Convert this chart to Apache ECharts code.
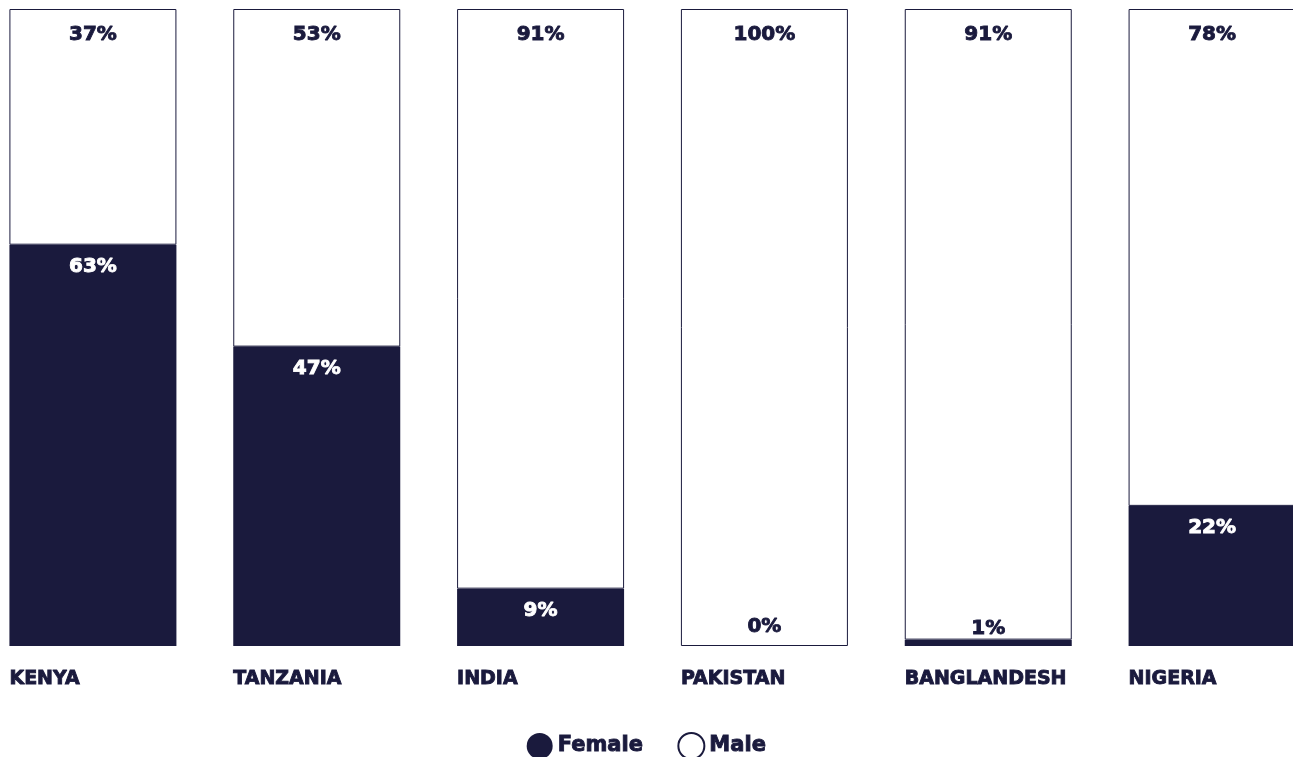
<!DOCTYPE html>
<html>
<head>
<meta charset="utf-8">
<script src="https://cdn.jsdelivr.net/npm/echarts@6/dist/echarts.min.js"></script>
<style>
  html, body { margin: 0; padding: 0; background: #fff; }
  #chart { width: 1293px; height: 757px; }
</style>
</head>
<body>
<div id="chart"></div>
<script>
const countries = ["KENYA", "TANZANIA", "INDIA", "PAKISTAN", "BANGLANDESH", "NIGERIA"];
const female = [63, 47, 9, 0, 1, 22];
const male = [37, 53, 91, 100, 91, 78];

const NAVY = "#1a1a3d";
const FONT = "'DejaVu Sans', sans-serif";

const chart = echarts.init(document.getElementById("chart"));

// heavier look: stroke the glyphs in their own colour
const heavy = (c) => ({ color: c, textBorderColor: c, textBorderWidth: 0.9 });

// tiny female shares get their label lifted above the bar, in dark text
const femaleData = female.map((v) => {
  if (v > 2) return v;
  return {
    value: v,
    label: { position: "top", distance: v === 0 ? 9 : 1, ...heavy(NAVY) }
  };
});
// male block fills the rest of the column; its label shows the reported share
const maleFill = female.map((v) => 100 - v);

const option = {
  animation: false,
  grid: { left: -19, width: 1343, top: 9, height: 637, outerBoundsMode: "none" },
  legend: {
    bottom: -8,
    left: "center",
    icon: "circle",
    itemWidth: 26,
    itemHeight: 26,
    itemGap: 34,
    textStyle: { ...heavy(NAVY), fontSize: 21, fontWeight: "bold", fontFamily: FONT },
    data: ["Female", "Male"]
  },
  xAxis: {
    type: "category",
    data: countries,
    axisLine: { show: false },
    axisTick: { show: false },
    axisLabel: {
      margin: 24,
      interval: 0,
      formatter: (v) => "{a|" + v + "}",
      rich: {
        a: {
          width: 167,
          align: "left",
          ...heavy(NAVY),
          fontSize: 19,
          fontWeight: "bold",
          fontFamily: FONT
        }
      }
    }
  },
  yAxis: { type: "value", min: 0, max: 100, show: false },
  series: [
    {
      name: "Female",
      type: "bar",
      stack: "total",
      barWidth: 167,
      data: femaleData,
      itemStyle: { color: NAVY },
      label: {
        show: true,
        position: "insideTop",
        distance: 12,
        formatter: "{c}%",
        ...heavy("#fff"),
        fontSize: 20,
        fontWeight: "bold",
        fontFamily: FONT
      }
    },
    {
      name: "Male",
      type: "bar",
      stack: "total",
      barWidth: 167,
      data: maleFill,
      itemStyle: { color: "#fff", borderColor: NAVY, borderWidth: 1 },
      label: {
        show: true,
        position: "insideTop",
        distance: 16,
        formatter: (p) => male[p.dataIndex] + "%",
        ...heavy(NAVY),
        fontSize: 20,
        fontWeight: "bold",
        fontFamily: FONT
      }
    }
  ]
};

chart.setOption(option);
</script>
</body>
</html>
